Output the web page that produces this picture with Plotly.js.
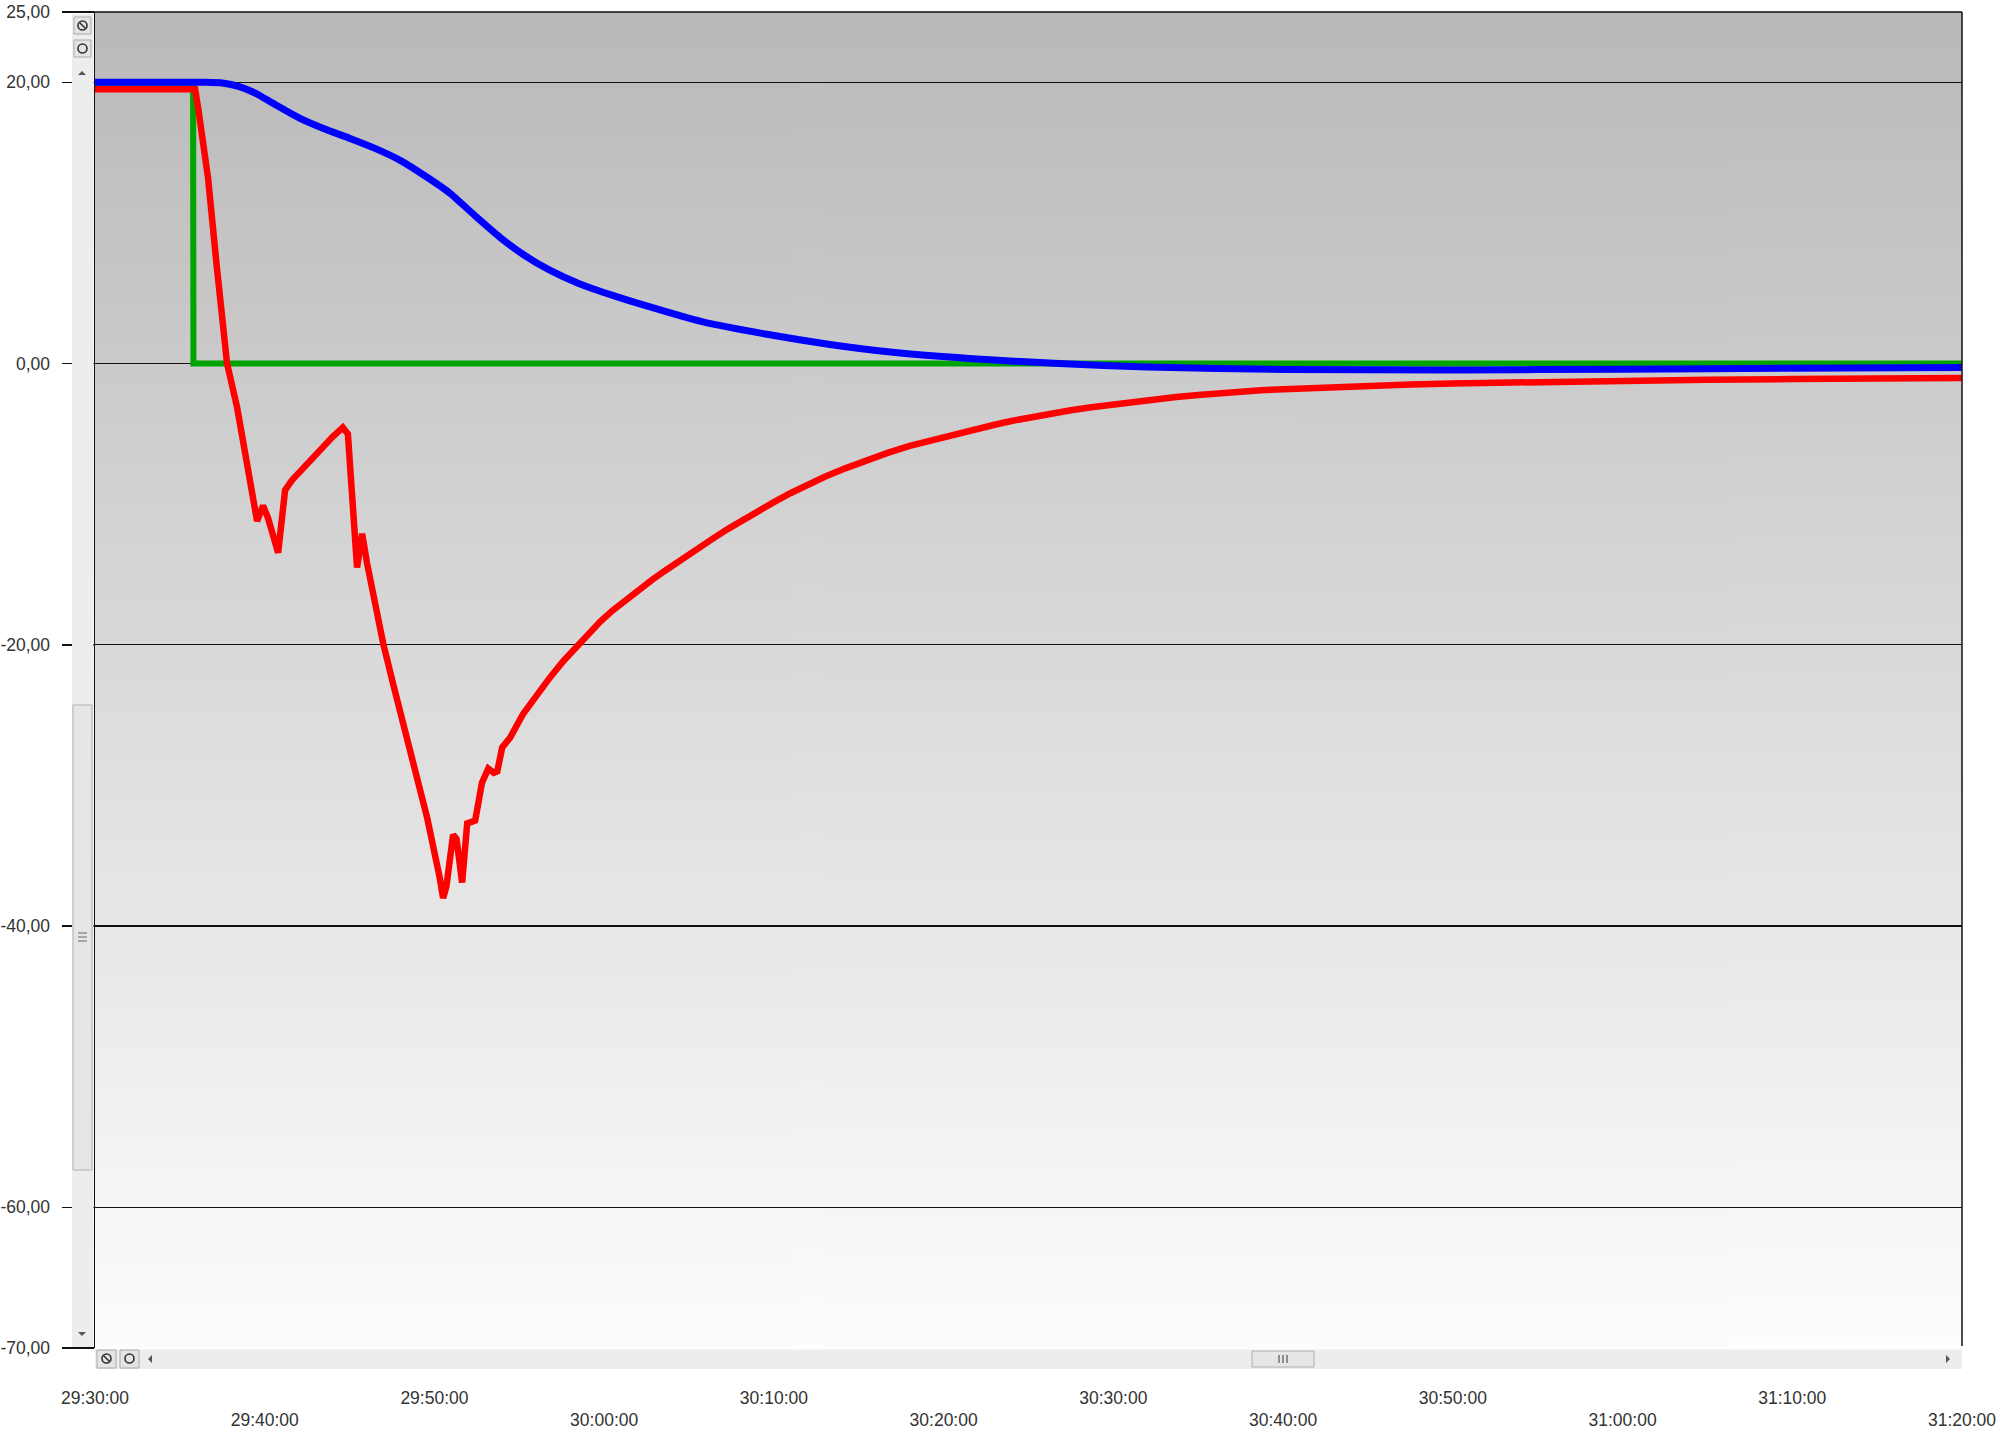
<!DOCTYPE html>
<html>
<head>
<meta charset="utf-8">
<script src="https://cdn.plot.ly/plotly-3.0.1.min.js"></script>
<style>
  html, body { margin: 0; padding: 0; background: #ffffff; }
  #chart { width: 2000px; height: 1431px; }
</style>
</head>
<body>
<div id="chart"></div>
<script>
// Time axis: minutes elapsed since 29:30:00
const xTickVals = [0, 10, 20, 30, 40, 50, 60, 70, 80, 90, 100, 110];
const xTickLabels = ["29:30:00", "29:40:00", "29:50:00", "30:00:00", "30:10:00", "30:20:00",
                     "30:30:00", "30:40:00", "30:50:00", "31:00:00", "31:10:00", "31:20:00"];
const yTickVals = [25, 20, 0, -20, -40, -60, -70];
const yTickLabels = ["25,00", "20,00", "0,00", "-20,00", "-40,00", "-60,00", "-70,00"];

// Green (setpoint step)
const greenT = [0, 5.78, 5.80, 110];
const greenV = [19.6, 19.6, 0, 0];

// Blue (slow response)
const blueT = [0, 6.5, 7.5, 8.5, 9.5, 10.5, 12.08, 13.5, 15.03, 16.5, 17.98, 19.5, 20.93, 22.4,
               23.87, 25.3, 26.82, 28.5, 30.5, 32.5, 35.7, 39.5, 43.3, 47, 51.5, 56.8, 62, 70, 80, 90, 100, 110];
const blueV = [20.0, 20.0, 19.95, 19.7, 19.2, 18.5, 17.44, 16.7, 16.01, 15.3, 14.45, 13.3, 12.1, 10.5,
               8.97, 7.7, 6.62, 5.7, 4.85, 4.1, 3.0, 2.1, 1.36, 0.8, 0.36, 0.0, -0.25, -0.42, -0.45, -0.4, -0.33, -0.27];

// Red (fast response with undershoot)
const redT = [0, 5.9, 6.1, 6.66, 7.15, 7.78, 8.37, 9.0, 9.55, 9.9, 10.2, 10.79, 11.2, 11.6, 12.3, 13.26,
              14.0, 14.6, 14.9, 15.44, 15.74, 16.03, 16.39, 16.98, 17.57, 18.57, 19.57, 20.3, 20.51, 20.7,
              21.1, 21.3, 21.63, 21.93, 22.4, 22.8, 23.17, 23.5, 23.7, 23.99, 24.46, 25.23, 26.0, 26.82, 27.6, 28.41,
              29.1, 29.77, 30.5, 31.3, 32.0, 32.8, 33.5, 34.5, 35.5, 36.4, 37.3, 38.1, 39.0, 40.0, 41.0, 42.0, 43.0,
              44.2, 45.5, 46.7, 48.0, 49.4, 50.8, 52.0, 53.0, 54.0, 55.0, 56.2, 57.5, 58.7, 60.0, 61.2, 62.5, 63.7,
              65.0, 66.2, 67.5, 68.7, 70.0, 72.5, 75.0, 77.5, 80.0, 82.5, 85.0, 87.5, 90.0, 95.0, 100.0, 105.0, 110.0];
const redV = [19.5, 19.5, 18.0, 13.2, 7.2, 0, -3.1, -7.5, -11.2, -10.1, -11.0, -13.45, -9.0, -8.3, -7.4, -6.0,
              -5.2, -4.55, -5.0, -14.5, -12.1, -14.2, -16.5, -19.9, -22.8, -27.5, -32.3, -36.5, -38.0, -37.2,
              -33.5, -33.8, -36.9, -32.7, -32.5, -29.8, -28.8, -29.1, -29.0, -27.3, -26.6, -24.9, -23.55, -22.3, -21.15, -20.07,
              -19.15, -18.35, -17.55, -16.75, -16.1, -15.4, -14.8, -13.95, -13.15, -12.45, -11.75, -11.15, -10.55, -9.85, -9.2, -8.6, -8.05,
              -7.45, -6.85, -6.35, -5.85, -5.4, -4.98, -4.62, -4.35, -4.08, -3.84, -3.58, -3.32, -3.1, -2.88, -2.69, -2.52, -2.37,
              -2.23, -2.1, -1.99, -1.9, -1.82, -1.68, -1.57, -1.48, -1.41, -1.35, -1.3, -1.25, -1.21, -1.15, -1.1, -1.05, -1.02];

// geometry helpers (pixel -> paper)
const W = 2000, H = 1431, ML = 95, MR = 38, MT = 12, MB = 83;
const PW = W - ML - MR, PH = H - MT - MB;
const xp = px => (px - ML) / PW;
const yp = py => (H - MB - py) / PH;

// gradient background image
function gradientImage() {
  const c = document.createElement('canvas');
  c.width = 4; c.height = 512;
  const g = c.getContext('2d');
  const grad = g.createLinearGradient(0, 0, 0, 512);
  grad.addColorStop(0, '#b9b9b9');
  grad.addColorStop(0.5, '#dbdbdb');
  grad.addColorStop(1, '#fdfdfd');
  g.fillStyle = grad;
  g.fillRect(0, 0, 4, 512);
  return c.toDataURL('image/png');
}

const traces = [
  { x: greenT, y: greenV, mode: 'lines', line: { color: '#00a400', width: 6 }, hoverinfo: 'skip' },
  { x: blueT, y: blueV, mode: 'lines', line: { color: '#0000ff', width: 7, shape: 'spline', smoothing: 0.6 }, hoverinfo: 'skip' },
  { x: redT, y: redV, mode: 'lines', line: { color: '#ff0000', width: 6.5 }, hoverinfo: 'skip' }
];

const strip = '#ededed';
const L = (x0, y0, x1, y1, c, w) => ({ type: 'line', xref: 'paper', yref: 'paper', x0: xp(x0), x1: xp(x1), y0: yp(y0), y1: yp(y1), line: { color: c, width: w }, layer: 'above' });
const R = (x0, y0, x1, y1, f, lc) => ({ type: 'rect', xref: 'paper', yref: 'paper', x0: xp(x0), x1: xp(x1), y0: yp(y1), y1: yp(y0), fillcolor: f, line: lc ? { color: lc, width: 1 } : { width: 0 }, layer: 'above' });
const C = (x0, y0, x1, y1) => ({ type: 'circle', xref: 'paper', yref: 'paper', x0: xp(x0), x1: xp(x1), y0: yp(y1), y1: yp(y0), line: { color: '#333', width: 1.6 }, layer: 'above' });
const T = pts => ({ type: 'path', xref: 'paper', yref: 'paper', path: 'M ' + pts.map(p => xp(p[0]) + ' ' + yp(p[1])).join(' L ') + ' Z', fillcolor: '#555', line: { width: 0 }, layer: 'above' });

const shapes = [
  // top border line
  L(63, 12, 1962, 12, '#111', 1.5),
  // right border line
  L(1962, 12, 1962, 1346, '#111', 1.5),
  // vertical scroll strip
  R(72, 14, 93.5, 1347, strip),
  // vertical thumb
  R(73, 705, 92, 1170, '#e6e6e6', '#b0b0b0'),
  L(78, 933, 87, 933, '#666', 1), L(78, 937, 87, 937, '#666', 1), L(78, 941, 87, 941, '#666', 1),
  // top icons
  R(74, 17, 91, 34, '#e4e4e4', '#aaa'), C(78, 21, 87, 30), L(79.5, 22.5, 85.5, 28.5, '#333', 1.6),
  R(74, 40, 91, 57, '#e4e4e4', '#aaa'), C(78, 44, 87, 53),
  // bottom scroll strip
  R(95, 1349.5, 1962, 1369, strip),
  R(1252, 1351, 1314, 1367, '#e6e6e6', '#b0b0b0'),
  L(1279, 1355, 1279, 1363, '#555', 1.2), L(1283, 1355, 1283, 1363, '#555', 1.2), L(1287, 1355, 1287, 1363, '#555', 1.2),
  R(97, 1350, 116, 1368, '#e4e4e4', '#aaa'), C(102, 1354, 111, 1363), L(103.5, 1355.5, 109.5, 1361.5, '#333', 1.6),
  R(120, 1350, 139, 1368, '#e4e4e4', '#aaa'), C(125, 1354, 134, 1363),
  // arrows
  T([[152, 1355], [152, 1363], [148, 1359]]),
  T([[1946, 1355], [1946, 1363], [1950, 1359]]),
  T([[78, 75], [86, 75], [82, 71]]),
  T([[78, 1332], [86, 1332], [82, 1336]])
];

const layout = {
  width: W, height: H,
  margin: { l: ML, r: MR, t: MT, b: MB, pad: 0 },
  paper_bgcolor: '#ffffff',
  plot_bgcolor: 'rgba(0,0,0,0)',
  showlegend: false,
  hovermode: false,
  font: { family: 'Liberation Sans, Arial, sans-serif', size: 17.5, color: '#333333' },
  xaxis: {
    range: [0, 110],
    tickmode: 'array',
    tickvals: xTickVals,
    ticktext: xTickLabels.map((s, i) => i % 2 === 1 ? '<br>' + s : s),
    ticks: '',
    showgrid: false,
    zeroline: false,
    showline: false,
    ticklabelstandoff: 37,
    tickfont: { size: 17.5, color: '#333333' },
    fixedrange: true
  },
  yaxis: {
    range: [-70, 25],
    tickmode: 'array',
    tickvals: yTickVals,
    ticktext: yTickLabels,
    ticks: 'outside',
    ticklen: 32,
    tickwidth: 1.5,
    tickcolor: '#111',
    showgrid: true,
    gridcolor: '#111',
    gridwidth: 1.3,
    zeroline: false,
    showline: true,
    linecolor: '#111',
    linewidth: 1.5,
    ticklabelstandoff: 8,
    tickfont: { size: 17.5, color: '#333333' },
    fixedrange: true
  },
  images: [{
    source: gradientImage(),
    xref: 'paper', yref: 'paper',
    x: 0, y: 1, sizex: 1, sizey: 1,
    xanchor: 'left', yanchor: 'top',
    sizing: 'stretch', layer: 'below'
  }],
  shapes: shapes
};

Plotly.newPlot('chart', traces, layout, { displayModeBar: false, staticPlot: true });
</script>
</body>
</html>
